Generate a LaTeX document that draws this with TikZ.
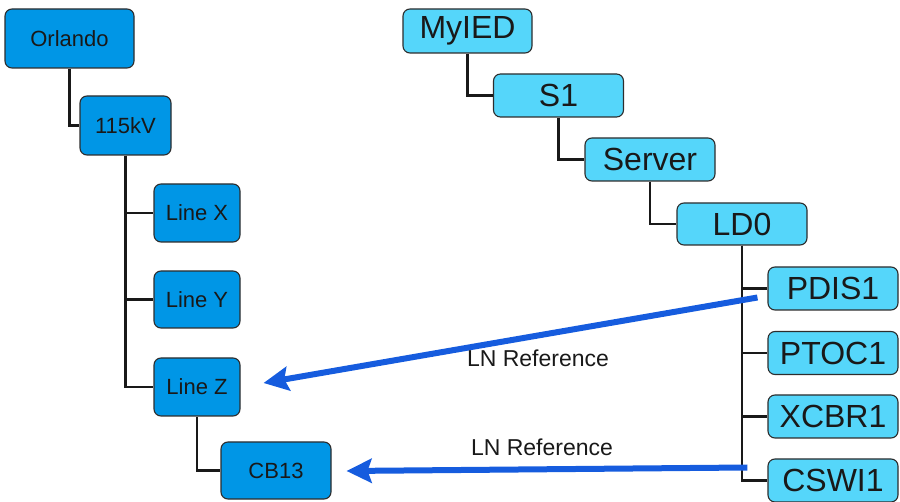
\documentclass[tikz,border=0pt]{standalone}
\usepackage{fontspec}
\setmainfont{Liberation Sans}
\usetikzlibrary{arrows.meta,calc}
\definecolor{darkbox}{RGB}{0,150,230}
\definecolor{lightbox}{RGB}{85,214,250}
\definecolor{refblue}{RGB}{22,92,222}
\definecolor{edge}{RGB}{45,45,45}
\begin{document}
\begin{tikzpicture}[x=1pt,y=-1pt,
  leftbox/.style={draw=edge,line width=1.1pt,fill=darkbox,rounded corners=7pt,
    inner sep=0pt,font=\fontsize{22}{22}\selectfont,text=black!90},
  rightbox/.style={draw=edge,line width=1.1pt,fill=lightbox,rounded corners=7pt,
    inner sep=0pt,minimum width=130pt,minimum height=43pt,
    font=\fontsize{32}{32}\selectfont,text=black!90},
  conn/.style={line width=2.4pt,black!90},
  lnref/.style={line width=6pt,refblue,-{Stealth[length=25pt,width=24pt,inset=4pt]}},
  lbl/.style={font=\fontsize{23}{23}\selectfont,text=black!90,inner sep=0pt}]
\useasboundingbox (0,0) rectangle (900,502);
% left tree
\node[leftbox,minimum width=129pt,minimum height=59pt] (orl) at (69.5,38.5) {Orlando};
\node[leftbox,minimum width=91pt,minimum height=59pt] (kv) at (125.5,125.5) {115kV};
\node[leftbox,minimum width=86pt,minimum height=58pt] (lx) at (197,213) {Line X};
\node[leftbox,minimum width=86pt,minimum height=57pt] (ly) at (197,299.5) {Line Y};
\node[leftbox,minimum width=86pt,minimum height=58pt] (lz) at (197,387) {Line Z};
\node[leftbox,minimum width=110pt,minimum height=57pt] (cb) at (276,470.5) {CB13};
% right tree
\node[rightbox,minimum width=129pt,minimum height=44pt] (ied) at (467.5,31) {MyIED};
\node[rightbox] (s1) at (558.5,95.5) {S1};
\node[rightbox] (srv) at (650,159.5) {Server};
\node[rightbox,minimum height=42pt] (ld) at (742,224) {LD0};
\node[rightbox] (pdis) at (833,288.5) {PDIS1};
\node[rightbox] (ptoc) at (833,353) {PTOC1};
\node[rightbox] (xcbr) at (833,416.5) {XCBR1};
\node[rightbox] (cswi) at (833,480.5) {CSWI1};
% connectors
\draw[conn] (orl.south) |- (kv.west);
\draw[conn] (kv.south) |- (lx.west);
\draw[conn] (kv.south) |- (ly.west);
\draw[conn] (kv.south) |- (lz.west);
\draw[conn] (lz.south) |- (cb.west);
\draw[conn] (ied.south) |- (s1.west);
\draw[conn] (s1.south) |- (srv.west);
\draw[conn] (srv.south) |- (ld.west);
\draw[conn] (ld.south) |- (pdis.west);
\draw[conn] (ld.south) |- (ptoc.west);
\draw[conn] (ld.south) |- (xcbr.west);
\draw[conn] (ld.south) |- (cswi.west);
% LN references
\draw[lnref] ($(pdis.west)+(-10,9)$) -- ($(lz.east)+(23,-4)$);
\draw[lnref] ($(cswi.west)+(-20,-13)$) -- ($(cb.east)+(15,0.5)$);
\node[lbl] (t1) at (538,358) {LN Reference};
\node[lbl] (t2) at (542,447) {LN Reference};
\end{tikzpicture}
\end{document}
